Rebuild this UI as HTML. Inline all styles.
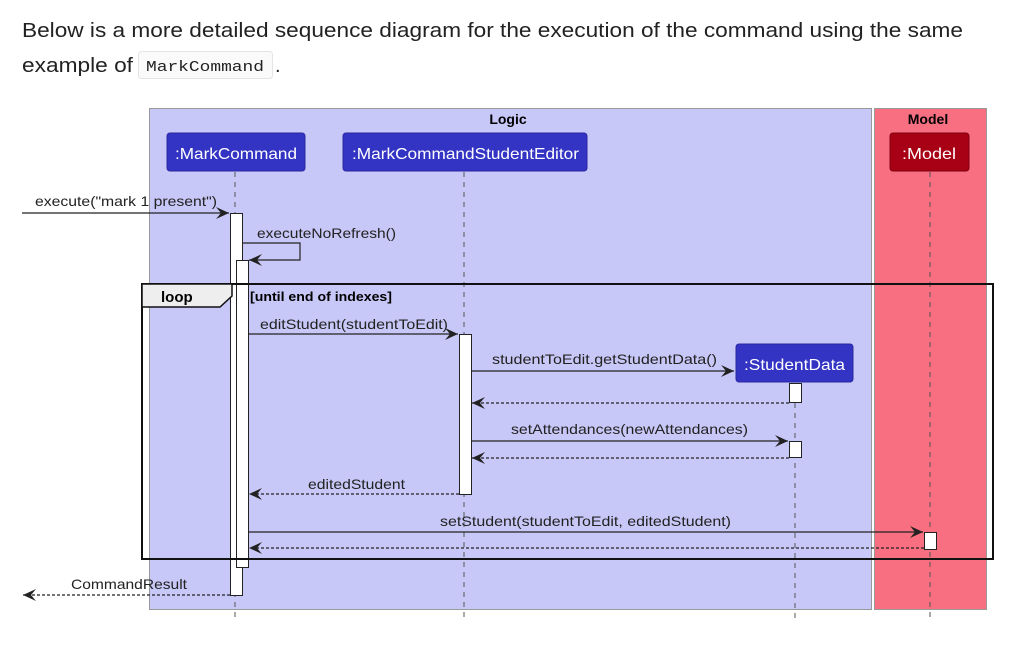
<!DOCTYPE html>
<html><head><meta charset="utf-8"><style>
html,body{margin:0;padding:0;background:#fff;width:1018px;height:655px;overflow:hidden}
svg{display:block}
</style></head><body>
<svg width="1018" height="655" xmlns="http://www.w3.org/2000/svg" font-family="Liberation Sans, sans-serif">
<defs>
<marker id="a" markerWidth="14" markerHeight="12" refX="13" refY="6" orient="auto" markerUnits="userSpaceOnUse"><path d="M0,0 L13,6 L0,12 L5,6 Z" fill="#222"/></marker>
</defs>
<text x="22" y="37" font-size="20" fill="#222" textLength="941" lengthAdjust="spacingAndGlyphs">Below is a more detailed sequence diagram for the execution of the command using the same</text>
<text x="22" y="72" font-size="20" fill="#222" textLength="111" lengthAdjust="spacingAndGlyphs">example of</text>
<rect x="138.5" y="51.5" width="134" height="27" rx="3" fill="#fafafa" stroke="#e4e4e4"/>
<text x="146" y="71" font-family="Liberation Mono, monospace" font-size="15" fill="#222" textLength="118" lengthAdjust="spacingAndGlyphs">MarkCommand</text>
<text x="275" y="72" font-size="20" fill="#222">.</text>

<rect x="149.5" y="108.5" width="722" height="501" fill="#c8c8f8" stroke="#999"/>
<rect x="874.5" y="108.5" width="112" height="501" fill="#f76f80" stroke="#999"/>
<text x="508" y="124" font-size="14" font-weight="bold" text-anchor="middle">Logic</text>
<text x="928" y="124" font-size="14" font-weight="bold" text-anchor="middle">Model</text>

<g stroke="#555" stroke-dasharray="5,5" stroke-width="1">
<line x1="235" y1="172" x2="235" y2="618"/>
<line x1="464" y1="172" x2="464" y2="618"/>
<line x1="795" y1="383" x2="795" y2="618"/>
<line x1="930" y1="172" x2="930" y2="618"/>
</g>

<rect x="167" y="133" width="138" height="38" rx="3" fill="#3333c4" stroke="#2a2aa0"/>
<text x="175" y="159" font-size="16" fill="#fff" textLength="122" lengthAdjust="spacingAndGlyphs">:MarkCommand</text>
<rect x="343" y="133" width="244" height="38" rx="3" fill="#3333c4" stroke="#2a2aa0"/>
<text x="352" y="159" font-size="16" fill="#fff" textLength="227" lengthAdjust="spacingAndGlyphs">:MarkCommandStudentEditor</text>
<rect x="890" y="133" width="79" height="38" rx="3" fill="#a80014" stroke="#800010"/>
<text x="902" y="159" font-size="16" fill="#fff" textLength="54" lengthAdjust="spacingAndGlyphs">:Model</text>
<rect x="736" y="344" width="117" height="38" rx="3" fill="#3333c4" stroke="#2a2aa0"/>
<text x="744" y="370" font-size="16" fill="#fff" textLength="101" lengthAdjust="spacingAndGlyphs">:StudentData</text>

<rect x="230.5" y="213.5" width="12" height="382" fill="#fff" stroke="#222"/>
<rect x="236.5" y="260.5" width="12" height="307" fill="#fff" stroke="#222"/>
<rect x="459.5" y="334.5" width="12" height="160" fill="#fff" stroke="#222"/>
<rect x="789.5" y="383.5" width="12" height="19" fill="#fff" stroke="#222"/>
<rect x="789.5" y="441.5" width="12" height="16" fill="#fff" stroke="#222"/>
<rect x="924.5" y="532.5" width="12" height="17" fill="#fff" stroke="#222"/>

<rect x="142" y="284" width="851" height="275" fill="none" stroke="#111" stroke-width="2"/>
<path d="M142,284 H232 V296 L220,307 H142 Z" fill="#eeeeee" stroke="#111" stroke-width="1.5"/>
<text x="161" y="302" font-size="15" font-weight="bold">loop</text>
<text x="250" y="301" font-size="13" font-weight="bold" textLength="142" lengthAdjust="spacingAndGlyphs">[until end of indexes]</text>

<g stroke="#222" stroke-width="1.2" fill="none">
<line x1="22" y1="213" x2="229" y2="213" marker-end="url(#a)"/>
<polyline points="242,243 300,243 300,260 249,260" marker-end="url(#a)"/>
<line x1="248" y1="334" x2="458" y2="334" marker-end="url(#a)"/>
<line x1="471" y1="371" x2="734" y2="371" marker-end="url(#a)"/>
<line x1="789" y1="403" x2="472" y2="403" stroke-dasharray="3,2" marker-end="url(#a)"/>
<line x1="471" y1="441" x2="788" y2="441" marker-end="url(#a)"/>
<line x1="789" y1="458" x2="472" y2="458" stroke-dasharray="3,2" marker-end="url(#a)"/>
<line x1="459" y1="494" x2="249" y2="494" stroke-dasharray="3,2" marker-end="url(#a)"/>
<line x1="248" y1="532" x2="923" y2="532" marker-end="url(#a)"/>
<line x1="924" y1="548" x2="249" y2="548" stroke-dasharray="3,2" marker-end="url(#a)"/>
<line x1="230" y1="595" x2="23" y2="595" stroke-dasharray="3,2" marker-end="url(#a)"/>
</g>

<g font-size="14" fill="#222" lengthAdjust="spacingAndGlyphs">
<text x="35" y="206" textLength="182" lengthAdjust="spacingAndGlyphs">execute("mark 1 present")</text>
<text x="257" y="238" textLength="139" lengthAdjust="spacingAndGlyphs">executeNoRefresh()</text>
<text x="260" y="329" textLength="188" lengthAdjust="spacingAndGlyphs">editStudent(studentToEdit)</text>
<text x="492" y="364" textLength="225" lengthAdjust="spacingAndGlyphs">studentToEdit.getStudentData()</text>
<text x="511" y="434" textLength="237" lengthAdjust="spacingAndGlyphs">setAttendances(newAttendances)</text>
<text x="308" y="489" textLength="97" lengthAdjust="spacingAndGlyphs">editedStudent</text>
<text x="440" y="526" textLength="291" lengthAdjust="spacingAndGlyphs">setStudent(studentToEdit, editedStudent)</text>
<text x="71" y="589" textLength="116" lengthAdjust="spacingAndGlyphs">CommandResult</text>
</g>
</svg>
</body></html>
